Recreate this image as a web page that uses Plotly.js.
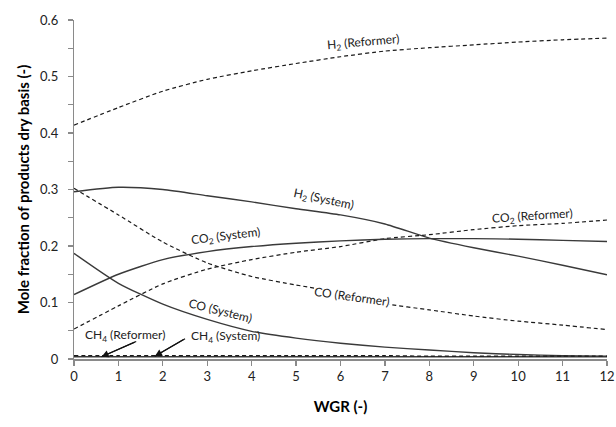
<!DOCTYPE html>
<html>
<head>
<meta charset="utf-8">
<script src="https://cdn.plot.ly/plotly-3.0.1.min.js"></script>
<style>html,body{margin:0;padding:0;background:#fff;}#chart{width:616px;height:427px;}</style>
</head>
<body>
<div id="chart"></div>
<script>
const wgr = [0, 1, 2, 3, 4, 5, 6, 7, 8, 9, 10, 11, 12];
const h2Reformer  = [0.414, 0.445, 0.474, 0.495, 0.510, 0.523, 0.535, 0.545, 0.551, 0.556, 0.561, 0.565, 0.568];
const h2System    = [0.296, 0.304, 0.300, 0.289, 0.278, 0.266, 0.255, 0.239, 0.214, 0.197, 0.182, 0.166, 0.149];
const co2Reformer = [0.053, 0.094, 0.133, 0.159, 0.176, 0.189, 0.199, 0.213, 0.220, 0.229, 0.236, 0.240, 0.246];
const co2System   = [0.114, 0.150, 0.176, 0.190, 0.199, 0.205, 0.209, 0.212, 0.213, 0.213, 0.212, 0.210, 0.208];
const coReformer  = [0.302, 0.255, 0.207, 0.170, 0.146, 0.131, 0.117, 0.098, 0.087, 0.076, 0.067, 0.060, 0.052];
const coSystem    = [0.187, 0.134, 0.097, 0.070, 0.049, 0.037, 0.028, 0.021, 0.016, 0.011, 0.008, 0.006, 0.005];
const ch4Reformer = [0.006, 0.006, 0.006, 0.006, 0.006, 0.006, 0.006, 0.006, 0.005, 0.005, 0.005, 0.005, 0.005];
const ch4System   = [0.004, 0.004, 0.004, 0.004, 0.004, 0.004, 0.004, 0.004, 0.004, 0.004, 0.004, 0.004, 0.004];

// label pointer arrows: [tail x, head x], [tail y, head y]
const ch4RefArrowX = [1.40, 0.62];
const ch4RefArrowY = [0.031, 0.004];
const ch4SysArrowX = [2.50, 1.82];
const ch4SysArrowY = [0.036, 0.005];

const solid = {color: '#3a3a3a', width: 1.4, shape: 'spline', smoothing: 0.6};
const dashed = {color: '#1a1a1a', width: 1.2, dash: '4px,3px', shape: 'spline', smoothing: 0.6};

const series = [
  ['H2 (Reformer)', h2Reformer, dashed],
  ['H2 (System)', h2System, solid],
  ['CO2 (Reformer)', co2Reformer, dashed],
  ['CO2 (System)', co2System, solid],
  ['CO (Reformer)', coReformer, dashed],
  ['CO (System)', coSystem, solid],
  ['CH4 (System)', ch4System, solid],
  ['CH4 (Reformer)', ch4Reformer, dashed]
];
const data = series.map(s => ({x: wgr, y: s[1], name: s[0], type: 'scatter', mode: 'lines', line: s[2], hoverinfo: 'skip'}));

const FAM = 'Lato, "Liberation Sans", sans-serif';
const fnt = {family: FAM, size: 12, color: '#222'};
function lab(text, x, y, ang, bg) {
  const a = {text: text, x: x, y: y, xref: 'x', yref: 'y', showarrow: false, textangle: ang, font: fnt};
  if (bg) { a.bgcolor = '#fff'; a.borderpad = 0; }
  return a;
}
const annotations = [
  lab('H<sub>2</sub> (Reformer)', 6.51, 0.560, -5),
  lab('H<sub>2</sub> (System)', 5.61, 0.282, 12),
  lab('CO<sub>2</sub> (Reformer)', 10.32, 0.253, -4),
  lab('CO<sub>2</sub> (System)', 3.42, 0.216, -7),
  lab('CO (Reformer)', 6.26, 0.111, 8, true),
  lab('CO (System)', 3.29, 0.085, 14),
  lab('CH<sub>4</sub> (Reformer)', 1.15, 0.042, 0),
  lab('CH<sub>4</sub> (System)', 3.42, 0.039, 0)
];
const shapes = [];
[[ch4RefArrowX, ch4RefArrowY], [ch4SysArrowX, ch4SysArrowY]].forEach(a => {
  shapes.push({type: 'line', xref: 'x', yref: 'y', x0: a[0][0], y0: a[1][0], x1: a[0][1], y1: a[1][1],
               line: {color: '#111', width: 1.2}, layer: 'above'});
  annotations.push({text: '', x: a[0][1], y: a[1][1], ax: a[0][0], ay: a[1][0], xref: 'x', yref: 'y', axref: 'x', ayref: 'y',
               showarrow: true, arrowhead: 2, arrowsize: 1.2, arrowwidth: 1.2, arrowcolor: '#111', standoff: 0});
});

const layout = {
  width: 616, height: 427,
  margin: {l: 74, r: 9, t: 20, b: 68},
  paper_bgcolor: '#fff', plot_bgcolor: '#fff',
  showlegend: false,
  font: fnt,
  xaxis: {
    range: [0, 12], tickmode: 'linear', tick0: 0, dtick: 1,
    showline: true, linecolor: '#8a8a8a', linewidth: 1.5,
    ticks: 'outside', ticklen: 5, tickwidth: 1.3, tickcolor: '#8a8a8a',
    showgrid: false, zeroline: false,
    tickfont: {family: FAM, size: 13, color: '#222'},
    title: {text: '<b>WGR (-)</b>', font: {family: FAM, size: 15, color: '#000'}, standoff: 18}
  },
  yaxis: {
    range: [0, 0.6], tickmode: 'linear', tick0: 0, dtick: 0.1,
    ticksuffix: '\u00a0\u00a0',
    showline: true, linecolor: '#8a8a8a', linewidth: 1.5,
    ticks: 'outside', ticklen: 5, tickwidth: 1.3, tickcolor: '#8a8a8a',
    minor: {tickmode: 'linear', dtick: 0.05, ticks: 'outside', ticklen: 5, tickwidth: 1.3, tickcolor: '#8a8a8a', showgrid: false},
    showgrid: false, zeroline: false,
    tickfont: {family: FAM, size: 13, color: '#222'},
    title: {text: '<b>Mole fraction of products dry basis (-)</b>', font: {family: FAM, size: 15, color: '#000'}, standoff: 7}
  },
  annotations: annotations,
  shapes: shapes
};

Plotly.newPlot('chart', data, layout, {displayModeBar: false, staticPlot: true});
</script>
</body>
</html>
